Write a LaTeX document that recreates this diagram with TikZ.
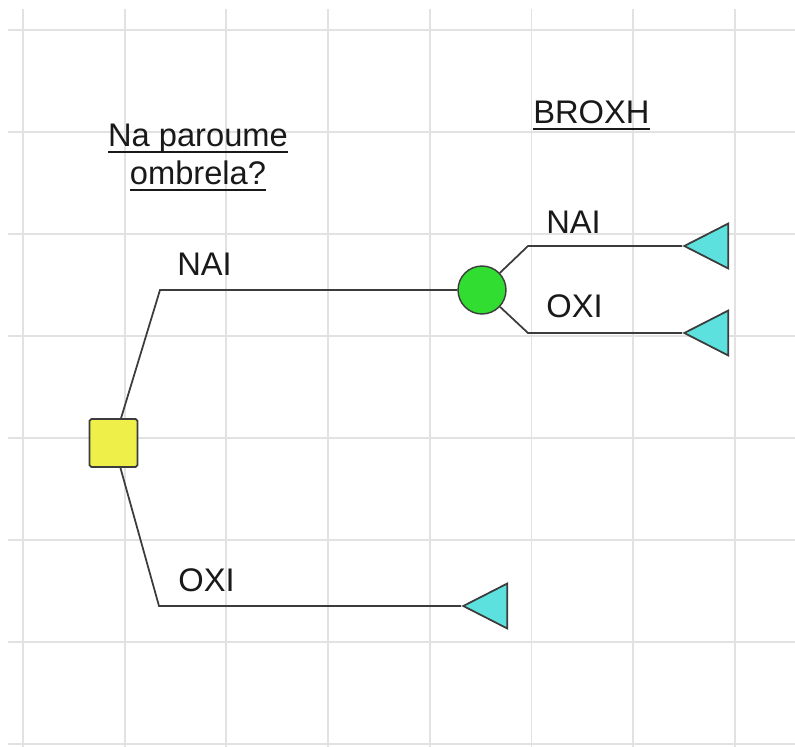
\documentclass[tikz,border=0pt]{standalone}
\usepackage{fontspec}
\setmainfont{Liberation Sans}
\usepackage{xcolor}
\usepackage{tikz}
\usetikzlibrary{shapes.geometric}

\definecolor{gridgray}{HTML}{E2E2E2}
\definecolor{linegray}{HTML}{3C3C3C}
\definecolor{decyellow}{HTML}{EFEF4A}
\definecolor{chancegreen}{HTML}{30DD30}
\definecolor{leafcyan}{HTML}{5CE1DE}
\newcommand{\ulin}[1]{\setbox0\hbox{#1}\rlap{\rule[-3.9pt]{\wd0}{1.1pt}}\box0}

\begin{document}
\begin{tikzpicture}[
  x=0.02cm, y=-0.02cm,
  gridline/.style={draw=gridgray, line width=1.1pt},
  edge/.style={draw=linegray, line width=1pt},
  decbox/.style={draw=linegray, line width=1pt, fill=decyellow, rounded corners=1pt,
    minimum size=0.96cm, inner sep=0},
  chancenode/.style={circle, draw=linegray, line width=0.8pt, fill=chancegreen,
    minimum size=0.96cm, inner sep=0},
  leaf/.style={isosceles triangle, isosceles triangle stretches, shape border rotate=180,
    draw=linegray, line width=1pt, fill=leafcyan, minimum width=0.9cm, minimum height=0.88cm,
    inner sep=0, anchor=apex},
  lbl/.style={font=\fontsize{18.6}{21.5}\selectfont, text=black!90, inner sep=0},
]
\useasboundingbox (0,0) rectangle (795,747);

% ===== grid =====
\foreach \i in {0,...,7} \draw[gridline] ({23+101.7*\i},9) -- ({23+101.7*\i},747);
\foreach \j in {0,...,7} \draw[gridline] (8,{30+102*\j}) -- (795,{30+102*\j});

% ===== nodes =====
\node[decbox] (dec) at (113.5,443) {};
\node[chancenode] (rain) at (482,290) {};
\node[leaf] (leafA) at (682,246) {};
\node[leaf] (leafB) at (682,333) {};
\node[leaf] (leafC) at (461,606) {};

\coordinate (bendA) at (160,290);
\coordinate (bendB) at (159,606);
\coordinate (bendC) at (528,246);
\coordinate (bendD) at (528,333);

% ===== branches =====
\draw[edge] (dec) -- (bendA) -- (rain);
\draw[edge] (dec) -- (bendB) -- (leafC);
\draw[edge] (rain) -- (bendC) -- (leafA);
\draw[edge] (rain) -- (bendD) -- (leafB);

% ===== labels =====
\node[lbl, align=center, anchor=base] (qlab) at (198,184) {\ulin{Na paroume}\\\ulin{ombrela?}};
\node[lbl, anchor=base west] (evlab) at (533,123) {\ulin{BROXH}};
\node[lbl, anchor=base west] (yesA) at (177,275) {NAI};
\node[lbl, anchor=base west] (noA) at (178,591) {OXI};
\node[lbl, anchor=base west] (yesB) at (546,233) {NAI};
\node[lbl, anchor=base west] (noB) at (546,317) {OXI};

\end{tikzpicture}
\end{document}
